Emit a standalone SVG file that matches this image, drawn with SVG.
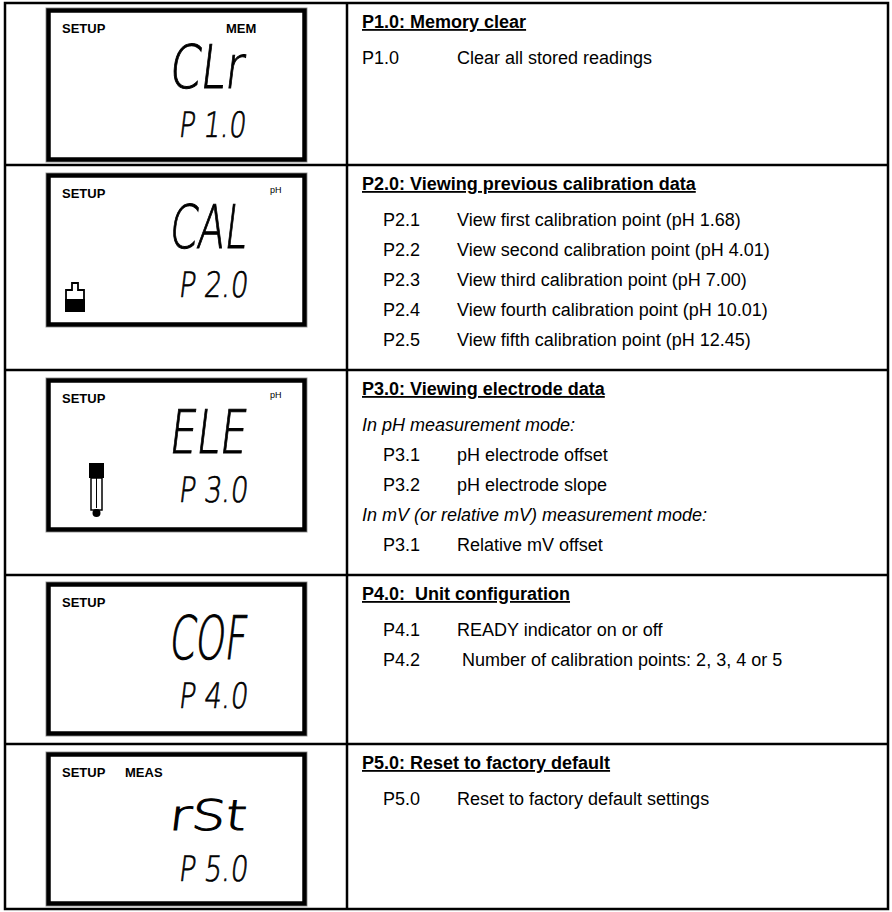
<svg xmlns="http://www.w3.org/2000/svg" width="892" height="912" viewBox="0 0 892 912">
<style>
.grid{fill:none;stroke:#000;stroke-width:2.5}
.lcd{fill:#fff;stroke:#000;stroke-width:4.5}
.lcdo{fill:none;stroke:#999;stroke-width:1}
.lab{font-family:"Liberation Sans",Arial,sans-serif;font-weight:bold;font-size:13px;fill:#000}
.ph{font-family:"Liberation Sans",Arial,sans-serif;font-size:9px;fill:#000}
.seg{font-family:"DejaVu Sans","Liberation Sans",sans-serif;font-weight:200;font-size:60px;fill:#000;stroke:#000;stroke-width:1}
.segr{font-family:"DejaVu Sans","Liberation Sans",sans-serif;font-weight:200;font-size:42px;fill:#000;stroke:#000;stroke-width:1}
.segs{font-family:"DejaVu Sans","Liberation Sans",sans-serif;font-weight:200;font-size:35px;fill:#000;stroke:#000;stroke-width:0.7}
.h{font-family:"Liberation Sans",Arial,sans-serif;font-weight:bold;font-size:18px;text-decoration:underline;fill:#000}
.t{font-family:"Liberation Sans",Arial,sans-serif;font-size:18px;fill:#000}
.i{font-family:"Liberation Sans",Arial,sans-serif;font-size:18px;font-style:italic;fill:#000}
</style>
<rect width="892" height="912" fill="#fff"/>
<g id="connectors">
<rect class="grid" x="5" y="3" width="883" height="906"/>
<line class="grid" x1="347" y1="3" x2="347" y2="909"/>
<line class="grid" x1="5" y1="165" x2="888" y2="165"/>
<line class="grid" x1="5" y1="370" x2="888" y2="370"/>
<line class="grid" x1="5" y1="575" x2="888" y2="575"/>
<line class="grid" x1="5" y1="744" x2="888" y2="744"/>
</g>
<g id="lcd1">
<rect class="lcdo" x="46" y="8" width="261" height="154"/>
<rect class="lcd" x="48.5" y="10.5" width="256" height="149"/>
<text class="lab" x="62" y="33">SETUP</text>
<text class="lab" x="226" y="33">MEM</text>
<text class="seg" transform="translate(168,88) skewX(-7)" textLength="74" lengthAdjust="spacingAndGlyphs">CLr</text>
<text class="segs" transform="translate(178,137) skewX(-7)" textLength="67" lengthAdjust="spacingAndGlyphs">P 1.0</text>
</g>
<g id="lcd2">
<rect class="lcdo" x="46" y="173" width="261" height="154"/>
<rect class="lcd" x="48.5" y="175.5" width="256" height="149"/>
<text class="lab" x="62" y="198">SETUP</text>
<text class="ph" x="270" y="193">pH</text>
<text class="seg" transform="translate(168,248) skewX(-7)" textLength="77" lengthAdjust="spacingAndGlyphs">CAL</text>
<text class="segs" transform="translate(178,297) skewX(-7)" textLength="69" lengthAdjust="spacingAndGlyphs">P 2.0</text>
<path d="M66,311 V290 H72 V283 H78 V290 H84 V311" fill="none" stroke="#000" stroke-width="1.8"/>
<rect x="65" y="299" width="20" height="13" fill="#000"/>
</g>
<g id="lcd3">
<rect class="lcdo" x="46" y="378" width="261" height="154"/>
<rect class="lcd" x="48.5" y="380.5" width="256" height="149"/>
<text class="lab" x="62" y="403">SETUP</text>
<text class="ph" x="270" y="398">pH</text>
<text class="seg" transform="translate(168,453) skewX(-7)" textLength="77" lengthAdjust="spacingAndGlyphs">ELE</text>
<text class="segs" transform="translate(178,502) skewX(-7)" textLength="69" lengthAdjust="spacingAndGlyphs">P 3.0</text>
<rect x="89" y="463" width="15" height="15" fill="#000"/>
<rect x="91" y="478" width="11" height="32" fill="none" stroke="#000" stroke-width="1.5"/>
<line x1="96.5" y1="478" x2="96.5" y2="508" stroke="#000" stroke-width="1"/>
<circle cx="96.5" cy="513" r="4" fill="#000"/>
</g>
<g id="lcd4">
<rect class="lcdo" x="46" y="582" width="261" height="154"/>
<rect class="lcd" x="48.5" y="584.5" width="256" height="149"/>
<text class="lab" x="62" y="607">SETUP</text>
<text class="seg" transform="translate(168,659) skewX(-7)" textLength="77" lengthAdjust="spacingAndGlyphs">COF</text>
<text class="segs" transform="translate(178,708) skewX(-7)" textLength="69" lengthAdjust="spacingAndGlyphs">P 4.0</text>
</g>
<g id="lcd5">
<rect class="lcdo" x="46" y="752" width="261" height="154"/>
<rect class="lcd" x="48.5" y="754.5" width="256" height="149"/>
<text class="lab" x="62" y="777">SETUP</text>
<text class="lab" x="125" y="777">MEAS</text>
<text class="segr" transform="translate(168,830) skewX(-7)" textLength="77" lengthAdjust="spacingAndGlyphs">rSt</text>
<text class="segs" transform="translate(178,881) skewX(-7)" textLength="69" lengthAdjust="spacingAndGlyphs">P 5.0</text>
</g>
<g id="p1">
<text class="h" x="362" y="28">P1.0: Memory clear</text>
<text class="t" x="362" y="64">P1.0</text>
<text class="t" x="457" y="64">Clear all stored readings</text>
</g>
<g id="p2">
<text class="h" x="362" y="190">P2.0: Viewing previous calibration data</text>
<text class="t" x="383" y="226">P2.1</text><text class="t" x="457" y="226">View first calibration point (pH 1.68)</text>
<text class="t" x="383" y="256">P2.2</text><text class="t" x="457" y="256">View second calibration point (pH 4.01)</text>
<text class="t" x="383" y="286">P2.3</text><text class="t" x="457" y="286">View third calibration point (pH 7.00)</text>
<text class="t" x="383" y="316">P2.4</text><text class="t" x="457" y="316">View fourth calibration point (pH 10.01)</text>
<text class="t" x="383" y="346">P2.5</text><text class="t" x="457" y="346">View fifth calibration point (pH 12.45)</text>
</g>
<g id="p3">
<text class="h" x="362" y="395">P3.0: Viewing electrode data</text>
<text class="i" x="362" y="431">In pH measurement mode:</text>
<text class="t" x="383" y="461">P3.1</text><text class="t" x="457" y="461">pH electrode offset</text>
<text class="t" x="383" y="491">P3.2</text><text class="t" x="457" y="491">pH electrode slope</text>
<text class="i" x="362" y="521">In mV (or relative mV) measurement mode:</text>
<text class="t" x="383" y="551">P3.1</text><text class="t" x="457" y="551">Relative mV offset</text>
</g>
<g id="p4">
<text class="h" x="362" y="600" xml:space="preserve">P4.0:  Unit configuration</text>
<text class="t" x="383" y="636">P4.1</text><text class="t" x="457" y="636">READY indicator on or off</text>
<text class="t" x="383" y="666">P4.2</text><text class="t" x="462" y="666">Number of calibration points: 2, 3, 4 or 5</text>
</g>
<g id="p5">
<text class="h" x="362" y="769">P5.0: Reset to factory default</text>
<text class="t" x="383" y="805">P5.0</text><text class="t" x="457" y="805">Reset to factory default settings</text>
</g>
</svg>
